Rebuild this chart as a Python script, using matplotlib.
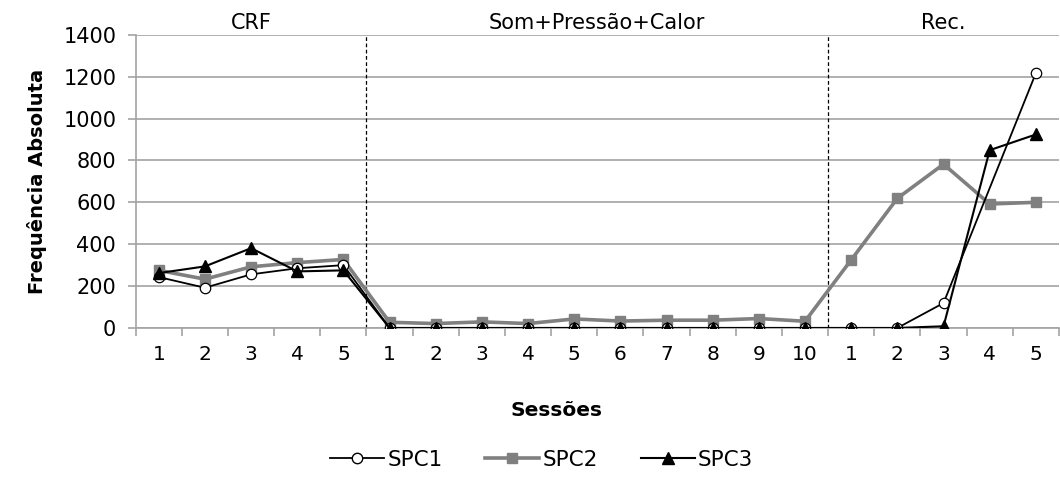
import matplotlib.pyplot as plt
from matplotlib.lines import Line2D
import numpy as np

plt.rcParams['font.family'] = ['DejaVu Sans']

# sessions: CRF (5), Som+Pressao+Calor (10), Rec. (5)
session_labels = ["1", "2", "3", "4", "5",
                  "1", "2", "3", "4", "5", "6", "7", "8", "9", "10",
                  "1", "2", "3", "4", "5"]
phase_names = ["CRF", "Som+Pressão+Calor", "Rec."]
phase_lengths = [5, 10, 5]

spc1 = [243, 192, 256, 285, 300,
        0, 0, 0, 0, 0, 0, 0, 0, 0, 0,
        0, 0, 119, np.nan, 1217]
spc2 = [275, 233, 292, 312, 327,
        27, 21, 29, 21, 43, 33, 37, 37, 45, 32,
        325, 619, 782, 592, 600]
spc3 = [262, 294, 381, 270, 275,
        0, 0, 0, 0, 0, 0, 0, 0, 0, 0,
        0, 0, 8, 849, 924]

x = np.arange(len(session_labels))

fig = plt.figure(figsize=(10.6, 4.83), dpi=100)
ax = fig.add_axes([0.128, 0.321, 0.871, 0.607])

grid_c = "#a3a3a3"
ax.set_ylim(0, 1400)
ax.set_yticks(np.arange(0, 1401, 200))
ax.grid(axis="y", color=grid_c, linewidth=1.2, zorder=0)
ax.set_xlim(-0.5, len(x) - 0.5)

for side in ["top", "right"]:
    ax.spines[side].set_visible(False)
ax.spines["left"].set_color(grid_c)
ax.spines["bottom"].set_color(grid_c)
ax.spines["left"].set_linewidth(1.2)
ax.spines["bottom"].set_linewidth(1.2)

# tick marks at category boundaries, labels at centres
ax.set_xticks(np.arange(-0.5, len(x), 1.0))
ax.set_xticklabels([])
ax.tick_params(axis="x", which="major", length=6, color=grid_c, width=1.2)
ax.set_xticks(x, minor=True)
ax.set_xticklabels(session_labels, minor=True, fontsize=14.5)
ax.tick_params(axis="x", which="minor", length=0, pad=12)
ax.tick_params(axis="y", length=6, color=grid_c, width=1.2, labelsize=15, pad=8)


def draw(vals, **kw):
    vals = np.asarray(vals, dtype=float)
    ok = np.isfinite(vals)
    ax.plot(x[ok], vals[ok], **kw)


draw(spc2, color="#808080", linewidth=2.6, marker="s", markersize=7.5,
     markerfacecolor="#808080", markeredgecolor="#808080", zorder=3)
draw(spc1, color="black", linewidth=1.3, marker="o", markersize=7.5,
     markerfacecolor="white", markeredgecolor="black", markeredgewidth=0.9, zorder=4)
draw(spc3, color="black", linewidth=1.5, marker="^", markersize=8.5,
     markerfacecolor="black", markeredgecolor="black", zorder=5)

# phase separators and names
start = 0
for i, (name, n) in enumerate(zip(phase_names, phase_lengths)):
    if i > 0:
        ax.axvline(start - 0.5, color="black", linestyle=(0, (3, 2)), linewidth=0.9, zorder=2)
    ax.text(start + (n - 1) / 2, 1.005, name, transform=ax.get_xaxis_transform(),
            ha="center", va="bottom", fontsize=15)
    start += n

ax.set_ylabel("Frequência Absoluta", fontsize=14, fontweight="bold", labelpad=12)
fig.text(0.525, 0.151, "Sessões", ha="center", va="center", fontsize=14.5, fontweight="bold")

handles = [
    Line2D([], [], color="black", linewidth=1.3, marker="o", markersize=7.5,
           markerfacecolor="white", markeredgecolor="black"),
    Line2D([], [], color="#808080", linewidth=2.6, marker="s", markersize=7.5,
           markerfacecolor="#808080", markeredgecolor="#808080"),
    Line2D([], [], color="black", linewidth=1.5, marker="^", markersize=8.5,
           markerfacecolor="black"),
]
fig.legend(handles, ["SPC1", "SPC2", "SPC3"], loc="center", ncol=3,
           bbox_to_anchor=(0.511, 0.048), frameon=False, fontsize=15.5,
           handlelength=2.5, handletextpad=0.15, columnspacing=2.0)

fig.savefig("out.png", dpi=100)
